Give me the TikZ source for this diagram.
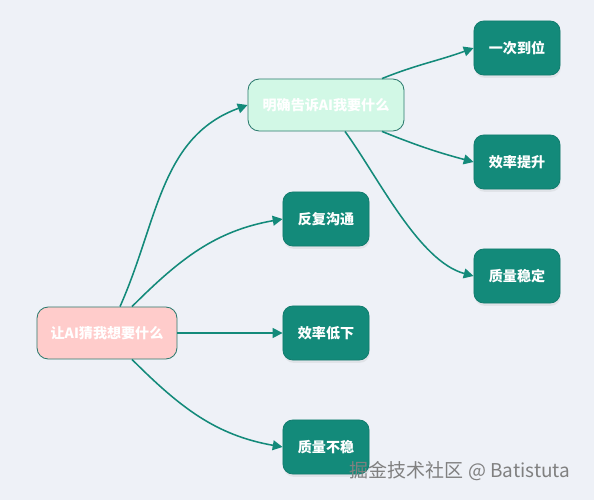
\documentclass[tikz,border=0pt]{standalone}
\usepackage{fontspec}
\newfontfamily\cjk{Noto Sans CJK SC}
\usetikzlibrary{arrows.meta, shadows}
\definecolor{bgcol}{HTML}{EEF1F7}
\definecolor{teal0}{HTML}{138A7A}
\definecolor{tealdk}{HTML}{2B7A6E}
\definecolor{rootfill}{HTML}{FFCCCB}
\definecolor{tellfill}{HTML}{D2F8E6}

\begin{document}
\begin{tikzpicture}[
    x=0.025cm, y=-0.025cm,
    leaf/.style={rectangle, draw=teal0!90!black, line width=0.6pt, fill=teal0, rounded corners=7pt, minimum width=2.15cm, minimum height=1.35cm, align=center, text=white, font=\cjk\bfseries\fontsize{10}{12}\selectfont, drop shadow={opacity=0.12, shadow xshift=0.5pt, shadow yshift=-2pt}},
    mid/.style={rectangle, draw=tealdk, line width=0.6pt, rounded corners=8pt, minimum height=1.3cm, align=center, text=white, font=\cjk\bfseries\fontsize{10}{12}\selectfont},
    arr/.style={-{Triangle[length=7pt, width=7pt]}, line width=1.1pt, draw=teal0}
]
    \fill[bgcol] (0,0) rectangle (594,500);
    \useasboundingbox (0,0) rectangle (594,500);

    \node[mid, fill=rootfill, minimum width=3.5cm] (root) at (107,333) {让AI猜我想要什么};
    \node[mid, fill=tellfill, minimum width=3.9cm] (tell) at (326,105) {明确告诉AI我要什么};

    \node[leaf] (loop) at (326,219) {反复沟通};
    \node[leaf] (slow) at (326,333) {效率低下};
    \node[leaf] (unstable) at (326,447) {质量不稳};

    \node[leaf] (once) at (517,48) {一次到位};
    \node[leaf] (faster) at (517,162) {效率提升};
    \node[leaf] (stable) at (517,276) {质量稳定};

    \draw[arr] ([xshift=0.325cm]root.north) to[out=66, in=200] (tell.west);
    \draw[arr] ([xshift=0.625cm]root.north) to[out=45, in=190] (loop.west);
    \draw[arr] (root.east) -- (slow.west);
    \draw[arr] ([xshift=0.625cm]root.south) to[out=-45, in=170] (unstable.west);

    \draw[arr] ([xshift=1.4cm]tell.north) to[out=22, in=200] (once.west);
    \draw[arr] ([xshift=1.4cm]tell.south) to[out=-22, in=165] (faster.west);
    \draw[arr] ([xshift=0.475cm]tell.south) to[out=-54, in=165, looseness=0.75] (stable.west);

    \node[text=black!50, font=\cjk\fontsize{13.5}{16}\selectfont, anchor=west] (mark) at (345,471) {掘金技术社区 @ Batistuta};
\end{tikzpicture}
\end{document}
